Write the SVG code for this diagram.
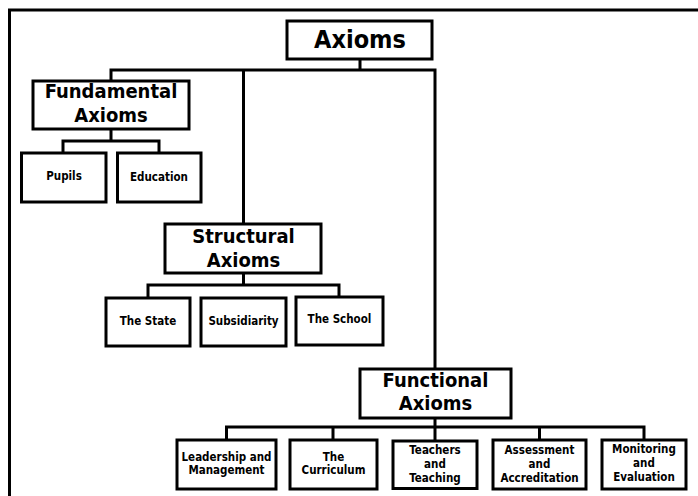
<svg xmlns="http://www.w3.org/2000/svg" width="698" height="496" viewBox="0 0 698 496">
<style>
.box{fill:#fff;stroke:#000;stroke-width:3}
.ln{fill:none;stroke:#000;stroke-width:3}
text{font-family:"DejaVu Sans Condensed","DejaVu Sans",Verdana,sans-serif;font-weight:bold;text-anchor:middle;fill:#000}
.t1{font-size:25px}
.t2{font-size:20px}
.t3{font-size:11.5px}
</style>
<rect width="698" height="496" fill="#fff"/>
<path class="ln" d="M9.5,500 V10 H700"/>
<g id="connectors">
<path class="ln" d="M360,59 V70 M111,81 V70 H435 V369 M243.5,70 V224"/>
<path class="ln" d="M111,129 V141 M63,153 V141 H159 V153"/>
<path class="ln" d="M243.5,273 V285 M148,298 V285 H339 V297"/>
<path class="ln" d="M435,418 V427 M226.5,440 V427 H644 V440 M333,440 V427 M435,442 V427 M539.5,440 V427"/>
</g>
<g id="axioms"><rect class="box" x="287" y="21" width="145" height="38"/><text class="t1" x="360" y="48">Axioms</text></g>
<g id="fundamental"><rect class="box" x="33" y="81" width="156" height="48"/><text class="t2" x="111" y="98">Fundamental</text><text class="t2" x="111" y="122">Axioms</text></g>
<g id="pupils"><rect class="box" x="21.5" y="153" width="84.5" height="49"/><text class="t3" x="64" y="180">Pupils</text></g>
<g id="education"><rect class="box" x="117.5" y="153" width="83.5" height="49"/><text class="t3" x="159" y="181">Education</text></g>
<g id="structural"><rect class="box" x="165" y="224" width="156" height="49"/><text class="t2" x="243.5" y="243">Structural</text><text class="t2" x="243.5" y="267">Axioms</text></g>
<g id="state"><rect class="box" x="106" y="298" width="84" height="48"/><text class="t3" x="148" y="325">The State</text></g>
<g id="subsidiarity"><rect class="box" x="201" y="298" width="85" height="48"/><text class="t3" x="243.5" y="325">Subsidiarity</text></g>
<g id="school"><rect class="box" x="296" y="297" width="87" height="48"/><text class="t3" x="339.5" y="323">The School</text></g>
<g id="functional"><rect class="box" x="360" y="369" width="151" height="49"/><text class="t2" x="435.5" y="387">Functional</text><text class="t2" x="435.5" y="410">Axioms</text></g>
<g id="leadership"><rect class="box" x="177" y="440" width="99" height="49"/><text class="t3" x="226.5" y="461">Leadership and</text><text class="t3" x="226.5" y="474">Management</text></g>
<g id="curriculum"><rect class="box" x="290" y="440" width="87" height="49"/><text class="t3" x="333.5" y="461">The</text><text class="t3" x="333.5" y="474">Curriculum</text></g>
<g id="teachers"><rect class="box" x="393" y="441" width="84" height="47.5"/><text class="t3" x="435" y="454">Teachers</text><text class="t3" x="435" y="468">and</text><text class="t3" x="435" y="482">Teaching</text></g>
<g id="assessment"><rect class="box" x="493" y="440" width="93" height="49"/><text class="t3" x="539.5" y="454">Assessment</text><text class="t3" x="539.5" y="468">and</text><text class="t3" x="539.5" y="482">Accreditation</text></g>
<g id="monitoring"><rect class="box" x="602" y="440" width="84" height="49"/><text class="t3" x="644" y="453">Monitoring</text><text class="t3" x="644" y="467">and</text><text class="t3" x="644" y="481">Evaluation</text></g>
</svg>
